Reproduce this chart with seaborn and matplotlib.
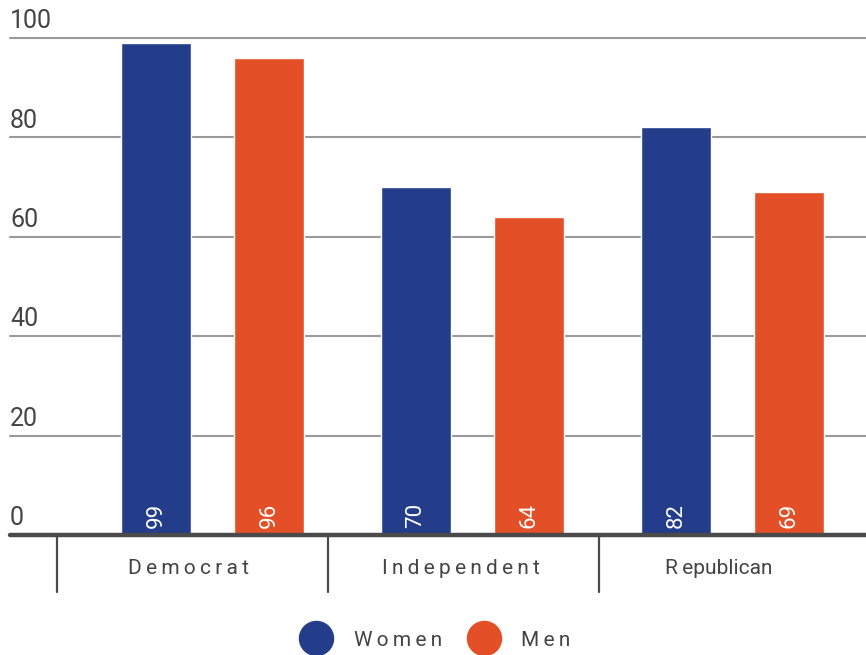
import matplotlib
matplotlib.use("Agg")
import matplotlib.pyplot as plt
from matplotlib.lines import Line2D
import seaborn as sns
import pandas as pd

parties = ["Democrat", "Independent", "Republican"]
party_labels = ["\u2009".join("Democrat"), "\u2009".join("Independent"),
                "R\u2009epublican"]
genders = ["Women", "Men"]
women = [99, 70, 82]
men = [96, 64, 69]
yticks = [0, 20, 40, 60, 80, 100]
colors = {"Women": "#243D8B", "Men": "#E34F26"}

rows = []
for p, w, m in zip(parties, women, men):
    rows.append({"party": p, "gender": "Women", "value": w})
    rows.append({"party": p, "gender": "Men", "value": m})
df = pd.DataFrame(rows)

sns.set_style("white")
plt.rcParams["font.family"] = ["Roboto", "DejaVu Sans"]

TXT = "#444444"
fig = plt.figure(figsize=(8.66, 6.55), dpi=100)
ax = fig.add_axes([10 / 866, 120 / 655, 856 / 866, 497 / 655])

sns.barplot(data=df, x="party", y="value", hue="gender", order=parties,
            hue_order=genders, palette=colors, width=0.87, gap=0.38,
            legend=False, ax=ax, saturation=1)

ax.set_xlim(-0.779, 2.513)
ax.set_ylim(0, 100)
for s in ax.spines.values():
    s.set_visible(False)
ax.set_xticks([])
ax.set_yticks([])
ax.set_xlabel("")
ax.set_ylabel("")

# gridlines & tick labels
for v in yticks:
    if v == 0:
        ax.axhline(0, color="#4a4a4a", lw=3.2, zorder=5, clip_on=False)
    else:
        ax.axhline(v, color="#9a9a9a", lw=1.5, zorder=0, clip_on=False)
    ax.annotate(str(v), xy=(0, v), xycoords=("axes fraction", "data"),
                xytext=(0, 7), textcoords="offset points", ha="left",
                va="baseline", fontsize=18, color=TXT, annotation_clip=False)

# value labels
for cont in ax.containers:
    for bar in cont:
        h = bar.get_height()
        ax.annotate(f"{h:.0f}", xy=(bar.get_x() + bar.get_width() / 2, 0),
                    xytext=(0, 5), textcoords="offset points", rotation=90,
                    ha="center", va="bottom", color="white", fontsize=16,
                    zorder=6)

# category dividers and labels
for xf in [47 / 856, 318 / 856, 589 / 856]:
    ax.add_line(Line2D([xf, xf], [0, -57 / 497], transform=ax.transAxes,
                       color="#4a4a4a", lw=1.6, clip_on=False))
label_pos = [179 / 856, 451 / 856, 709 / 856]
for lab, xf in zip(party_labels, label_pos):
    ax.text(xf, -33 / 497, lab, transform=ax.transAxes,
            ha="center", va="center", fontsize=15, color=TXT)

# legend
handles = [Line2D([], [], marker="o", linestyle="none", markersize=24.5,
                  markerfacecolor=colors[g], markeredgecolor=colors[g])
           for g in genders]
labels = ["\u2009".join(g) for g in genders]
leg = fig.legend(handles, labels, loc="center", ncol=2,
                 bbox_to_anchor=(433 / 866, 1 - 640 / 655), frameon=False,
                 fontsize=15, handletextpad=0.8, columnspacing=1.0,
                 borderpad=0, labelcolor=TXT)

fig.savefig("out.png", dpi=100)
